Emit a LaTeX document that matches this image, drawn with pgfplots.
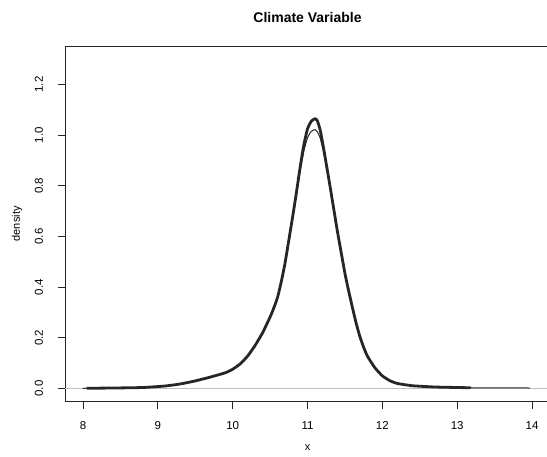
\documentclass[border=0pt]{standalone}
\usepackage{pgfplots}
\pgfplotsset{compat=1.18}
\usepackage{fontspec}
\setmainfont{Liberation Sans}

\pgfplotstableread{
x y
8.05 0.001
8.4 0.002
8.8 0.004
9.1 0.010
9.3 0.018
9.5 0.030
9.7 0.045
9.9 0.062
10.0 0.076
10.1 0.097
10.2 0.128
10.3 0.170
10.4 0.220
10.5 0.282
10.55 0.318
10.6 0.360
10.65 0.422
10.7 0.495
10.75 0.585
10.8 0.675
10.85 0.770
10.9 0.870
10.95 0.960
11.0 1.025
11.05 1.055
11.1 1.065
11.13 1.058
11.17 1.020
11.22 0.940
11.3 0.800
11.4 0.620
11.5 0.455
11.55 0.385
11.6 0.320
11.65 0.258
11.7 0.205
11.75 0.163
11.8 0.128
11.9 0.082
12.0 0.050
12.1 0.031
12.2 0.020
12.4 0.011
12.7 0.006
13.0 0.004
13.18 0.003
}\thickdata

\pgfplotstableread{
x y
8.0 0.001
8.4 0.002
8.8 0.004
9.1 0.010
9.3 0.018
9.5 0.030
9.7 0.045
9.9 0.062
10.0 0.076
10.1 0.097
10.2 0.128
10.3 0.170
10.4 0.220
10.5 0.282
10.55 0.318
10.6 0.360
10.65 0.422
10.7 0.495
10.75 0.582
10.8 0.670
10.85 0.760
10.9 0.855
10.95 0.935
11.0 0.990
11.05 1.015
11.1 1.022
11.13 1.014
11.17 0.988
11.22 0.925
11.3 0.800
11.4 0.620
11.5 0.455
11.55 0.385
11.6 0.320
11.65 0.258
11.7 0.205
11.75 0.163
11.8 0.128
11.9 0.082
12.0 0.050
12.1 0.031
12.2 0.020
12.4 0.011
12.7 0.006
13.0 0.004
13.2 0.003
13.5 0.003
13.97 0.002
}\thindata

\begin{document}
\begin{tikzpicture}
\begin{axis}[
  name=ax,
  scale only axis,
  width=485pt, height=355.7pt,
  xmin=7.76, xmax=14.24,
  ymin=-0.052, ymax=1.352,
  axis line style={black!85, line width=0.9pt},
  xtick={8,9,10,11,12,13,14},
  ytick={0,0.2,0.4,0.6,0.8,1.0,1.2},
  xtick pos=bottom, ytick pos=left,
  tick align=outside,
  major tick length=7pt,
  tick style={black!85, line width=0.9pt},
  y tick label style={/pgf/number format/fixed, /pgf/number format/fixed zerofill, /pgf/number format/precision=1},
  /pgf/number format/assume math mode=true,
  ticklabel style={font=\fontsize{11.5}{13}\selectfont},
  xticklabel style={anchor=base, yshift=-21pt},
  yticklabel style={rotate=90, anchor=base, yshift=15pt},
  xlabel={x},
  ylabel={density},
  label style={font=\fontsize{11}{13}\selectfont},
  xlabel style={at={(axis description cs:0.5,-0.1358)}, anchor=base},
  ylabel style={at={(axis description cs:-0.0928,0.5)}, anchor=base},
  title={Climate Variable},
  title style={font=\fontsize{14}{16}\selectfont\bfseries, at={(axis description cs:0.5,1.0478)}, anchor=base},
  clip=true,
]
\addplot[gray!50, line width=0.4pt, forget plot] coordinates {(7.76,0) (14.24,0)};
\addplot[black!85, line width=2.8pt, line join=round, smooth, tension=0.3] table[x=x,y=y] {\thickdata};
\addplot[black!85, line width=1pt, line join=round, smooth, tension=0.3] table[x=x,y=y] {\thindata};
\end{axis}
\pgfresetboundingbox
\useasboundingbox ([shift={(-65pt,-55.3pt)}]ax.south west) rectangle ([shift={(482pt,46pt)}]ax.north west);
\end{tikzpicture}
\end{document}
